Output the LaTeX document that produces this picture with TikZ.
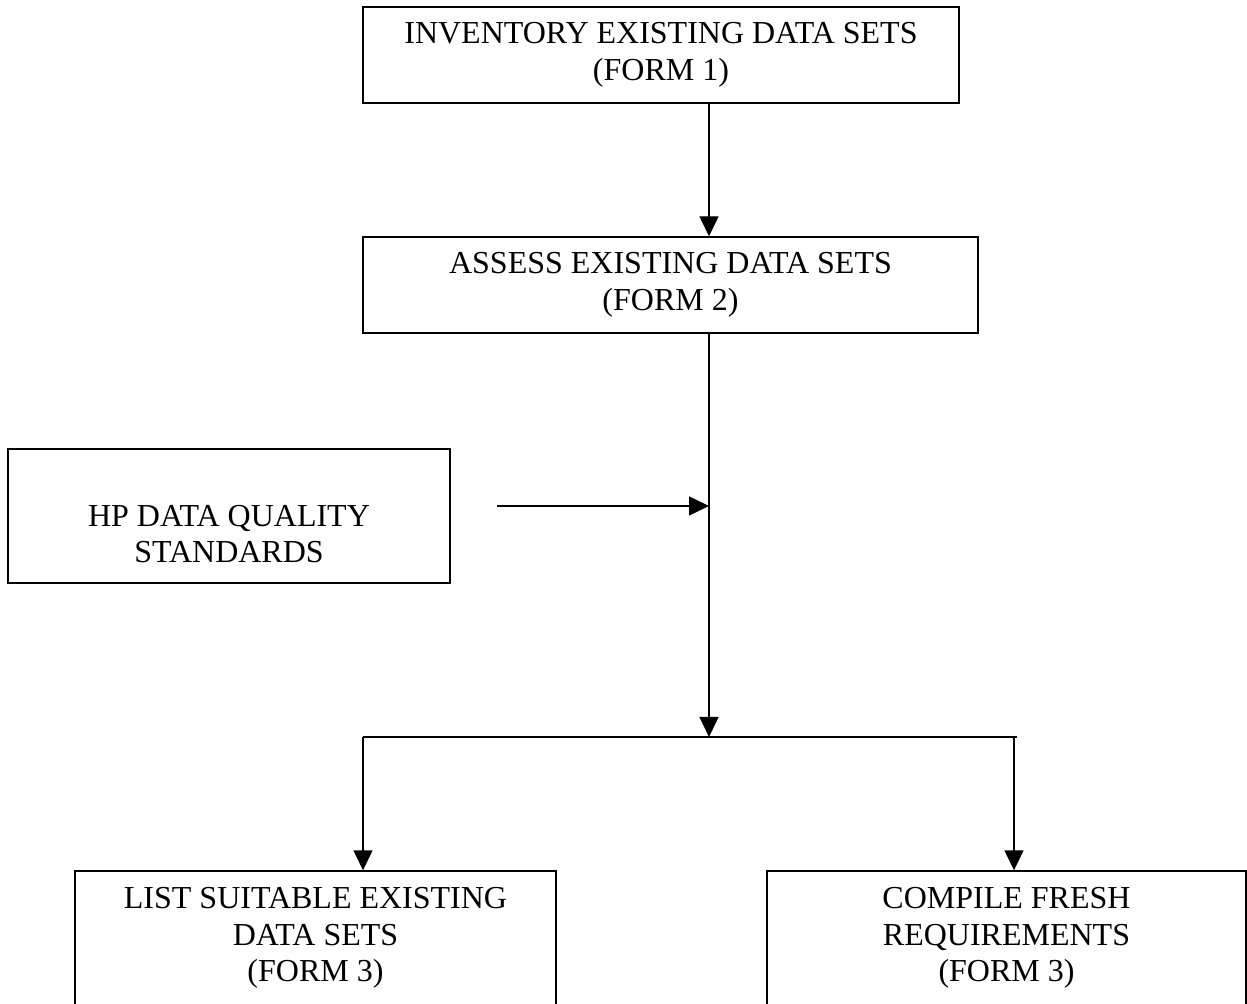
\documentclass[tikz,border=0pt]{standalone}
\usepackage{fontspec}
\setmainfont{Liberation Serif}
\usetikzlibrary{arrows.meta}

\begin{document}
\begin{tikzpicture}[x=0.5pt, y=-0.5pt, line width=0.7pt,
		lbl/.style={align=center, inner sep=0pt, font=\fontsize{16pt}{18.35pt}\selectfont},
		box/.style={lbl, draw, rectangle},
		arr/.style={-{Triangle[length=10pt, width=9.5pt]}}]
				\useasboundingbox (0,0) rectangle (1247,1004);
				
				\node[box, minimum width=298pt, minimum height=48pt] (inventory) at (661,55) {INVENTORY EXISTING DATA SETS\\(FORM 1)};
				\node[box, minimum width=307.5pt, minimum height=48pt] (assess) at (670.5,285) {ASSESS EXISTING DATA SETS\\(FORM 2)};
				
				\node[box, minimum width=221pt, minimum height=67pt] (standards) at (229,516) {};
				\node[lbl] (standardstext) at ([yshift=-9pt]standards.center) {HP DATA QUALITY\\STANDARDS};
				
				\node[box, minimum width=240.5pt, minimum height=67pt] (suitable) at (315.5,938) {LIST SUITABLE EXISTING\\DATA SETS\\(FORM 3)};
				\node[box, minimum width=239.5pt, minimum height=67pt] (fresh) at (1006.5,938) {COMPILE FRESH\\REQUIREMENTS\\(FORM 3)};
				
				\coordinate (split) at (709,737);
				\coordinate (splitleft) at (363,737);
				\coordinate (splitright) at (1017,737);
				\coordinate (dropright) at (1014,737);
				\coordinate (quality) at (497,506);
				
				\draw[arr] (inventory.south -| split) -- (assess.north -| split);
				\draw[arr] (assess.south -| split) -- (split);
				\draw[arr] (quality) -- (quality -| split);
				
				\draw (splitleft) -- (splitright);
				\draw[arr] (splitleft) -- (splitleft |- suitable.north);
				\draw[arr] (dropright) -- (dropright |- fresh.north);
			\end{tikzpicture}
\end{document}
